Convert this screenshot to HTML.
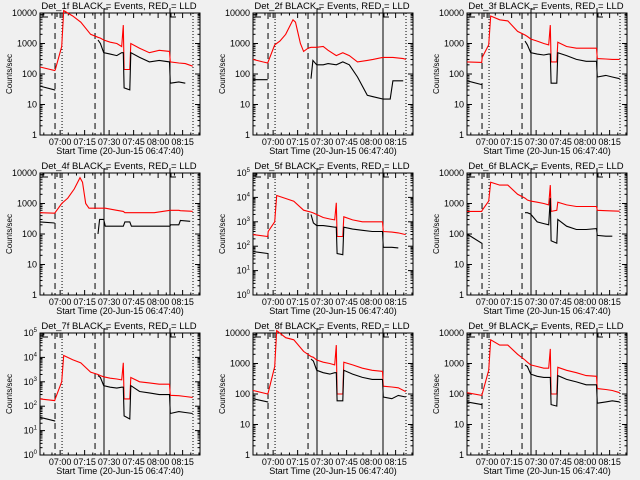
<!DOCTYPE html>
<html><head><meta charset="utf-8"><style>
body{margin:0;background:#f0f0f0;}
svg{display:block;font-family:"Liberation Sans",sans-serif;}
</style></head><body>
<svg id="fig" width="640" height="480" viewBox="0 0 640 480">
<rect x="0" y="0" width="640" height="480" fill="#f0f0f0"/>
</svg>
<script>
// shared time axis (minutes since 06:47:40) for the similar panels
const T = [0,9,9.3,13.3,14.5,20,25,31,35.5,37,39,43,47,50,51,51.5,55,55.6,61,67,73,79.3,79.8,85,89,93.5];
const red1 = [170,130,135,800,12000,8000,5000,2000,1600,1500,1300,1100,1000,800,4000,140,140,1000,700,500,600,550,250,230,220,180];
const blk1 = [40,30,30,null,null,null,null,null,1300,1000,500,450,400,500,500,35,30,500,350,250,280,250,50,55,50,null];
const red3 = [250,240,350,900,8000,6000,5500,2500,1900,1700,1400,1200,1000,900,4000,250,250,1100,800,700,700,700,320,310,300,300];
const blk3 = [60,45,45,null,null,null,null,null,1200,900,500,450,420,450,450,50,50,500,400,300,260,260,80,90,80,70];
const red5 = [300,250,400,1000,12000,9000,7000,3000,2500,2300,2000,1500,1300,1200,6000,250,250,1600,1200,1000,1000,1000,400,380,350,300];
const blk5 = [60,50,50,null,null,null,null,null,2000,900,700,700,650,600,600,50,45,600,500,450,400,400,90,90,85,null];
const red6 = [550,550,600,1200,5000,4000,4000,2000,1500,1300,1200,1100,1000,900,4000,550,600,1100,900,800,800,800,600,580,570,560];
const blk6 = [100,50,50,null,null,null,null,null,500,500,450,250,220,200,1500,60,50,300,180,140,140,150,90,85,85,null];
const red7 = [200,170,200,1000,12000,8000,6000,2500,2000,1800,1600,1400,1300,1200,6000,200,200,1500,1000,900,800,800,280,270,250,230];
const blk7 = [35,25,25,null,null,null,null,null,1800,1500,700,600,550,600,600,40,30,700,400,350,300,300,50,60,55,50];
const red8 = [130,100,110,800,12000,7000,6000,2500,1700,1600,1300,1100,1000,900,4000,100,100,1100,900,700,600,550,180,170,160,120];
const blk8 = [70,55,55,null,null,null,null,null,1400,1200,600,500,450,500,500,60,60,600,450,350,300,300,80,70,90,80];
const red9 = [110,90,100,600,6000,4000,4000,2000,1300,1100,900,800,700,700,3000,100,100,750,600,500,400,380,150,140,130,110];
const blk9 = [55,45,45,null,null,null,null,null,900,800,450,380,350,350,350,45,40,400,300,250,200,200,50,55,60,55];
// panel 2
const T2 = [0,6,9,13.3,16.5,20,24.5,26,29,31,33.7,35.5,36.7,39,43,46,51,55,59,64,70,73.5,79.6,84,85.7,92,93.7];
const red2 = [300,250,230,900,1200,2000,6000,5000,1000,550,700,750,750,750,800,600,400,500,400,250,280,300,350,350,350,320,300];
const blk2 = [65,65,65,null,null,null,null,null,null,null,null,70,280,200,200,220,200,250,200,80,20,18,15,15,60,60,null];
// panel 4
const T4 = [0,9,13.3,17,21,24.5,26,28,30,35.5,36.5,39,40,47,51,52,55,56,70,79.6,80,85,86,92,93.5];
const red4 = [500,480,1000,1500,3000,7000,5000,1000,700,700,700,700,700,600,550,500,500,500,500,600,600,600,580,560,550];
const blk4 = [250,230,null,null,null,null,null,null,null,100,300,300,180,180,180,250,250,180,180,180,200,200,280,260,null];

const panelIds = ['1f','2f','3f','4f','5f','6f','7f','8f','9f'];
const panelTimes = [T,T2,T,T4,T,T,T,T,T];
const panelRed = [red1,red2,red3,red4,red5,red6,red7,red8,red9];
const panelBlk = [blk1,blk2,blk3,blk4,blk5,blk6,blk7,blk8,blk9];
const panelDecades = [4,4,4,4,5,4,5,4,4];
const xTickLabels = ['07:00','07:15','07:30','07:45','08:00','08:15'];
const xTickTimes = [12.33,27.33,42.33,57.33,72.33,87.33];

const NS='http://www.w3.org/2000/svg';
const svg=document.getElementById('fig');
function mk(tag,attrs,parent){const e=document.createElementNS(NS,tag);for(const k in attrs)e.setAttribute(k,attrs[k]);(parent||svg).appendChild(e);return e;}

const X0=40,X1=200,Y0=13,Y1=135,PXM=1.633;
for(let p=0;p<9;p++){
  const col=p%3,row=Math.floor(p/3);
  const g=mk('g',{transform:`translate(${[0,213,427][col]},${row*160})`});
  
  
  const dec=panelDecades[p];
  const xs=t=>X0+t*PXM;
  const ys=v=>Y1-Math.log10(v)/dec*(Y1-Y0);
  const ti=mk('text',{x:119,y:9,'font-size':9.5,'text-anchor':'middle',fill:'#000'},g);
  ti.textContent='Det_'+panelIds[p]+' BLACK = Events, RED = LLD';
  
  
  const bx=mk('rect',{x:X0,y:Y0,width:X1-X0,height:Y1-Y0,fill:'none',stroke:'#000','stroke-width':1},g);
  
  
  for(let d=0;d<=dec;d++){
    const y=ys(Math.pow(10,d));
    mk('line',{x1:X0,x2:X0+5,y1:y,y2:y,stroke:'#000'},g);
    mk('line',{x1:X1-5,x2:X1,y1:y,y2:y,stroke:'#000'},g);
    const lb=mk('text',{x:37,y:y+3,'font-size':9,'text-anchor':'end',fill:'#000'},g);
    
    
    if(dec===5){lb.textContent='10';const s=mk('tspan',{'font-size':6,dy:-4},lb);s.textContent=String(d);}
    else lb.textContent=String(Math.pow(10,d));
    if(d<dec)for(let m=2;m<10;m++){const ym=ys(m*Math.pow(10,d));
      mk('line',{x1:X0,x2:X0+2.5,y1:ym,y2:ym,stroke:'#000'},g);
      mk('line',{x1:X1-2.5,x2:X1,y1:ym,y2:ym,stroke:'#000'},g);}
  }
  for(let t=2.33;t<98;t+=5){const x=xs(t);const major=xTickTimes.some(v=>Math.abs(v-t)<0.1);const L=major?5:2.5;
    mk('line',{x1:x,x2:x,y1:Y1,y2:Y1-L,stroke:'#000'},g);mk('line',{x1:x,x2:x,y1:Y0,y2:Y0+L,stroke:'#000'},g);}
  xTickLabels.forEach((s,i)=>{const t=mk('text',{x:xs(xTickTimes[i]),y:145,'font-size':9,'text-anchor':'middle',fill:'#000'},g);t.textContent=s;
    
    });
  const xl=mk('text',{x:120,y:154,'font-size':9,'text-anchor':'middle',fill:'#000'},g);xl.textContent='Start Time (20-Jun-15 06:47:40)';
  
  
  const yl=mk('text',{x:0,y:0,'font-size':8,'text-anchor':'middle',fill:'#000',transform:'translate(12,74) rotate(-90)'},g);yl.textContent='Counts/sec';
  
  
  const vd=[[9.2,'6,4',Y0],[33.7,'6,4',Y0],[13.5,'1,2',Y0],[93.7,'1,2',Y0],[39.2,'',8],[79.6,'',8]];
  vd.forEach(v=>{const l=mk('line',{x1:xs(v[0]),x2:xs(v[0]),y1:v[2],y2:Y1,stroke:'#000','stroke-dasharray':v[1]},g);
    
    });
  mk('path',{d:`M43,13V17H48 M57,17V13H62V18 M${xs(39.2)},9H${xs(39.2)+4} M${xs(79.6)+1},13V17H${xs(79.6)+6}`,fill:'none',stroke:'#000'},g);
  const Tt=panelTimes[p];
  function series(vals,color,name){let d='',pen=false;
    vals.forEach((v,i)=>{if(v==null){pen=false;return;}d+=(pen?'L':'M')+xs(Tt[i]).toFixed(1)+','+ys(v).toFixed(1);pen=true;});
    const pa=mk('path',{d:d,fill:'none',stroke:color,'stroke-width':1.1},g);
    
    }
  series(panelRed[p],'#ff0000','lld-rate-line');
  series(panelBlk[p],'#000000','events-rate-line');
}
</script>
</body></html>
